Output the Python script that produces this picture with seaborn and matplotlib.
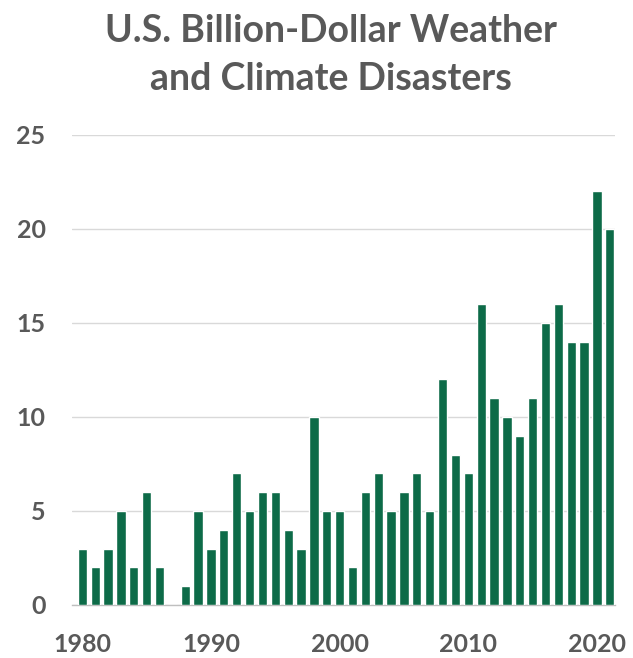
import matplotlib
matplotlib.use("Agg")
import matplotlib.pyplot as plt
import seaborn as sns
import pandas as pd

years = list(range(1980, 2022))
disasters = [3, 2, 3, 5, 2, 6, 2, 0, 1, 5,
             3, 4, 7, 5, 6, 6, 4, 3, 10, 5,
             5, 2, 6, 7, 5, 6, 7, 5, 12, 8,
             7, 16, 11, 10, 9, 11, 15, 16, 14, 14,
             22, 20]
tick_years = [1980, 1990, 2000, 2010, 2020]
y_ticks = [0, 5, 10, 15, 20, 25]
title_lines = ["U.S. Billion-Dollar Weather", "and Climate Disasters"]

df = pd.DataFrame({"year": years, "count": disasters})

sns.set_theme(style="white")
plt.rcParams["font.family"] = ["Lato", "DejaVu Sans"]

fig = plt.figure(figsize=(6.33, 6.58), dpi=100)
ax = fig.add_axes([72/633, 1-605/658, (615-72)/633, (605-135)/658])

sns.barplot(data=df, x="year", y="count", color="#0d6b48", saturation=1,
            width=0.72, ax=ax, zorder=3)

ax.set_ylim(0, 25)
ax.set_xlim(-0.8, 41.4)
ax.set_yticks(y_ticks)
ax.set_yticklabels([str(t) for t in y_ticks])
ax.set_xticks([years.index(y) for y in tick_years])
ax.set_xticklabels([str(y) for y in tick_years])
ax.yaxis.grid(True, color="#d9d9d9", linewidth=1, zorder=0)
ax.set_axisbelow(True)
for s in ["top", "right", "left"]:
    ax.spines[s].set_visible(False)
ax.spines["bottom"].set_color("#bfbfbf")
ax.spines["bottom"].set_linewidth(1)
ax.tick_params(axis="both", length=0, labelsize=18, labelcolor="#595959")
ax.tick_params(axis="x", pad=20.5)
ax.tick_params(axis="y", pad=19)
for lab in ax.get_xticklabels() + ax.get_yticklabels():
    lab.set_fontweight("bold")
ax.set_xlabel("")
ax.set_ylabel("")

for line, yb in zip(title_lines, [42, 90]):
    fig.text(331/633, 1-yb/658, line, ha="center", va="baseline",
             fontsize=27, fontweight="bold", color="#595959")

fig.savefig("out.png", dpi=100)
